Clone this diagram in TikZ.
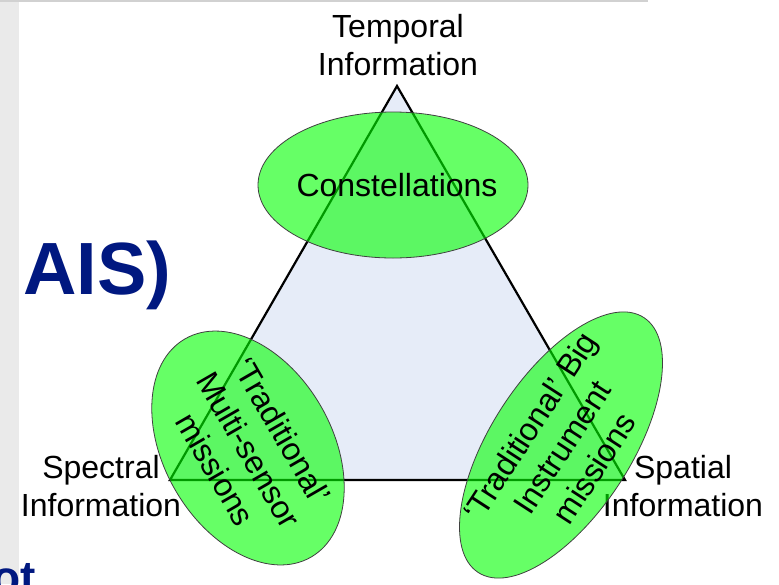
\documentclass[tikz,border=0pt]{standalone}
\usepackage{fontspec}
\setmainfont{Liberation Sans}
\usetikzlibrary{shapes.geometric}
\definecolor{trifill}{RGB}{230,236,248}
\definecolor{navy}{RGB}{0,24,128}
\definecolor{stripgray}{RGB}{234,234,234}
\begin{document}
\begin{tikzpicture}[x=1pt,y=-1pt,
  lbl/.style={font=\fontsize{32}{38.4}\selectfont, align=center, inner sep=0pt},
  blob/.style={ellipse, draw=black!75, line width=0.8pt, fill=green, fill opacity=0.6, inner sep=0pt},
  blobtext/.style={font=\fontsize{32}{38.4}\selectfont, align=center, inner sep=0pt, text=black}]
\useasboundingbox (0,0) rectangle (779,584);
\clip (0,0) rectangle (779,584);
\fill[white] (0,0) rectangle (779,584);
\fill[stripgray] (0,0) rectangle (19,584);
\draw[black!18, line width=1.5pt] (0,0.75) -- (648,0.75);
\node[anchor=base west, inner sep=0pt, text=navy, font=\fontsize{74}{80}\selectfont\bfseries] (ais) at (23,294) {AIS)};
\node[anchor=base east, inner sep=0pt, text=navy, font=\fontsize{46}{50}\selectfont\bfseries] (ot) at (36,593) {ot};
% triangle
\coordinate (T) at (397,86);
\coordinate (L) at (170,480);
\coordinate (R) at (625,480);
\filldraw[fill=trifill, draw=black, line width=2.2pt, line join=miter] (T) -- (L) -- (R) -- cycle;
% vertex labels
\node[lbl] (temporal) at (398,45) {Temporal\\Information};
\node[lbl] (spectral) at (101,486) {Spectral\\Information};
\node[lbl] (spatial) at (683,486) {Spatial\\Information};
% ellipses
\node[blob, minimum width=270pt, minimum height=146pt] (top) at (393,185) {};
\node[blob, minimum width=252pt, minimum height=168pt, rotate=-60] (left) at (248,448) {};
\node[blob, minimum width=304pt, minimum height=140pt, rotate=57] (right) at (561,445) {};
% ellipse texts
\node[blobtext] (topt) at (397,185) {Constellations};
\node[blobtext, rotate=-60] (leftt) at (249,450) {‘Traditional’\\Multi-sensor\\missions};
\node[blobtext, rotate=57] (rightt) at (562,447) {‘Traditional’ Big\\Instrument\\missions};
\end{tikzpicture}
\end{document}
